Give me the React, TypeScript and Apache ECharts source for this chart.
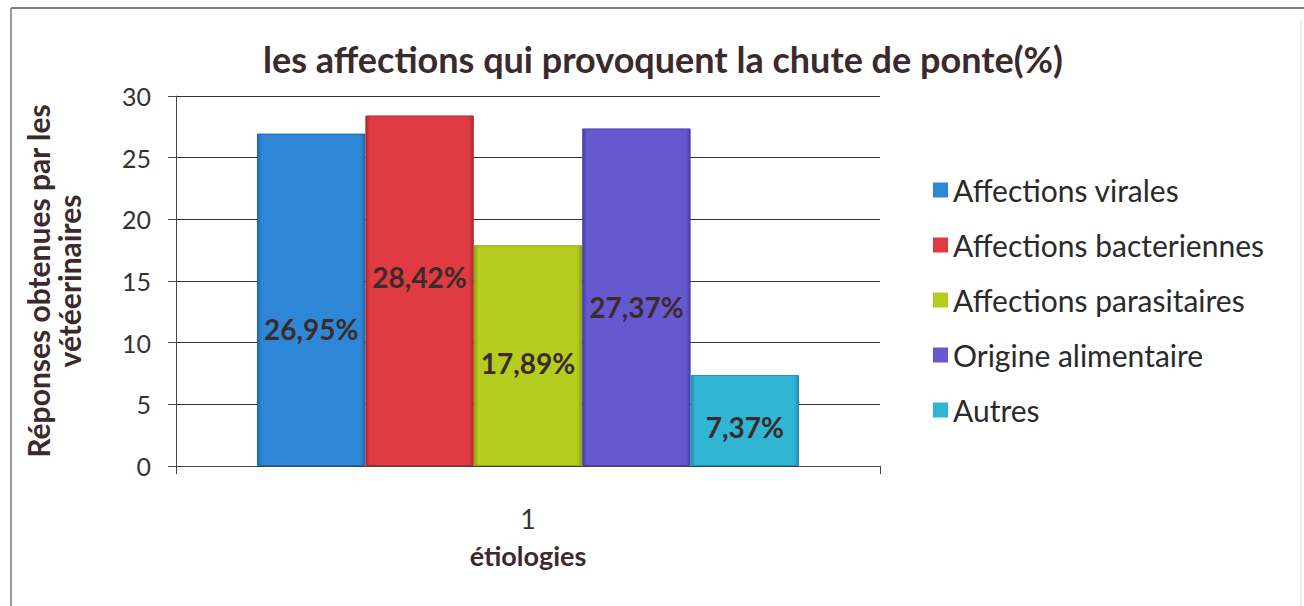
import React, { useEffect, useRef } from "react";
import * as echarts from "echarts";

const categories = ["1"];
const seriesNames = [
  "Affections virales",
  "Affections bacteriennes",
  "Affections parasitaires",
  "Origine alimentaire",
  "Autres",
];
const seriesValues = [26.95, 28.42, 17.89, 27.37, 7.37];
const valueLabels = ["26,95%", "28,42%", "17,89%", "27,37%", "7,37%"];
const yTicks = [0, 5, 10, 15, 20, 25, 30];

const colors = ["#2e87d6", "#e03a42", "#b6cc1e", "#6658cf", "#30b5d5"];
const borders = ["#1f66b0", "#b02a30", "#8ea012", "#4a3fa8", "#1f8fb0"];
const labelOffsets = [29, -14, 7, 10, 6];

export default function App() {
  const ref = useRef<HTMLDivElement>(null);
  useEffect(() => {
    if (!ref.current) return;
    const chart = echarts.init(ref.current, null, { renderer: "svg" });
    const font = "Lato";
    chart.setOption({
      animation: false,
      backgroundColor: "#ffffff",
      title: {
        text: "les affections qui provoquent la chute de ponte(%)",
        left: 658,
        top: 36,
        textAlign: "center",
        textStyle: { fontFamily: font, fontWeight: "bold", fontSize: 36, color: "#3a2a2e" },
      },
      legend: {
        orient: "vertical",
        left: 928,
        top: 169,
        itemWidth: 15,
        itemHeight: 15,
        itemGap: 23,
        itemStyle: { borderWidth: 0 },
        icon: "rect",
        data: seriesNames,
        textStyle: { fontFamily: font, fontSize: 30, color: "#2a2a2a", lineHeight: 32, padding: [0, 0, 0, 0] },
      },
      grid: { left: 176, right: 424, top: 96, bottom: 140 },
      xAxis: {
        type: "category",
        data: categories,
        name: "étiologies",
        nameLocation: "middle",
        nameGap: 76,
        nameTextStyle: { fontFamily: font, fontWeight: "bold", fontSize: 27, color: "#3a2a2e" },
        axisLine: { lineStyle: { color: "#444", width: 1 } },
        axisTick: { show: true, length: 8, lineStyle: { color: "#444" } },
        axisLabel: { fontFamily: font, fontSize: 26, color: "#333", margin: 40 },
      },
      yAxis: {
        type: "value",
        min: yTicks[0],
        max: yTicks[yTicks.length - 1],
        interval: yTicks[1] - yTicks[0],
        name: "Réponses obtenues par les\nvétéerinaires",
        nameLocation: "middle",
        nameGap: 92,
        nameRotate: 90,
        nameTextStyle: { fontFamily: font, fontWeight: "bold", fontSize: 30, color: "#3a2a2e", lineHeight: 31 },
        axisLine: { show: true, lineStyle: { color: "#444", width: 1 } },
        axisTick: { show: true, length: 8, lineStyle: { color: "#444" } },
        axisLabel: { fontFamily: font, fontSize: 25, color: "#333", margin: 25 },
        splitLine: { lineStyle: { color: "#333", width: 1 } },
      },
      graphic: [
        { type: "line", shape: { x1: 11, y1: 8, x2: 1304, y2: 8 }, style: { stroke: "#555", lineWidth: 1.5 } },
        { type: "line", shape: { x1: 11, y1: 8, x2: 11, y2: 606 }, style: { stroke: "#777", lineWidth: 1.5 } },
        { type: "line", shape: { x1: 1301, y1: 20, x2: 1301, y2: 606 }, style: { stroke: "#ddd", lineWidth: 1 } },
      ],
      series: seriesNames.map((name, i) => ({
        type: "bar",
        name,
        data: [seriesValues[i]],
        barGap: "0%",
        barCategoryGap: "23%",
        itemStyle: {
          color: new echarts.graphic.LinearGradient(0, 0, 1, 0, [
            { offset: 0, color: borders[i] },
            { offset: 0.04, color: colors[i] },
            { offset: 0.96, color: colors[i] },
            { offset: 1, color: borders[i] },
          ]),
          borderColor: borders[i],
          borderWidth: 1,
        },
        label: {
          show: true,
          position: "inside",
          offset: [0, labelOffsets[i]],
          formatter: () => valueLabels[i],
          fontFamily: font,
          fontWeight: "bold",
          fontSize: 28,
          color: "#3b2b2b",
        },
      })),
    });
    return () => chart.dispose();
  }, []);
  return (
    <div
      ref={ref}
      style={{ position: "fixed", left: 0, top: 0, width: 1304, height: 606 }}
    />
  );
}
